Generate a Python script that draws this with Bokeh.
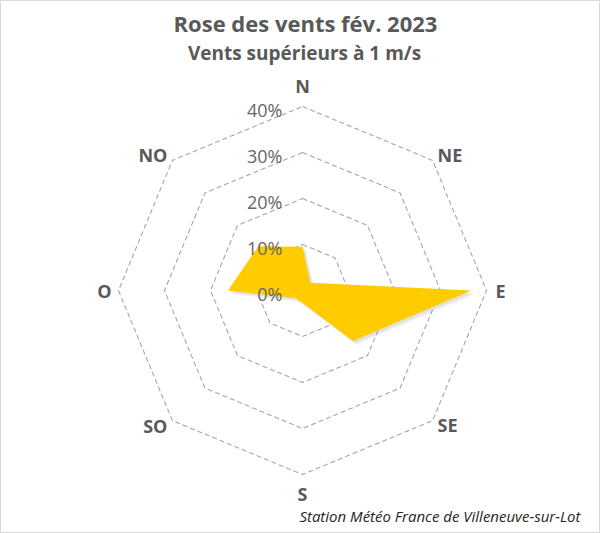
import numpy as np
from bokeh.plotting import figure
from bokeh.models import Range1d
from bokeh.core.properties import value
from bokeh.embed import file_html
from bokeh.resources import INLINE

# ---- data ----
directions = ["N", "NE", "E", "SE", "S", "SO", "O", "NO"]
frequencies = [9.5, 2.4, 36.7, 15.5, 2.7, 2.3, 16.2, 13.6]   # %
ring_levels = [10, 20, 30, 40]
tick_values = [0, 10, 20, 30, 40]
tick_labels = ["0%", "10%", "20%", "30%", "40%"]
title_text = "Rose des vents fév. 2023"
subtitle_text = "Vents supérieurs à 1 m/s"
source_text = "Station Météo France de Villeneuve-sur-Lot"

# ---- layout ----
W, H = 600, 533
S = 4.6            # pixels per percent
CX, CY = 302, 290  # chart centre in figure pixels (from top-left)
FONT = "Open Sans"
GREY = "#595959"

def P(px, py):
    """figure pixel -> data coords"""
    return ((px - CX) / S, (CY - py) / S)

p = figure(width=W, height=H, output_backend="svg", toolbar_location=None,
           x_range=Range1d(-CX / S, (W - CX) / S),
           y_range=Range1d(-(H - CY) / S, CY / S),
           min_border=0)
p.axis.visible = False
p.grid.visible = False
p.outline_line_color = "#D9D9D9"
p.background_fill_color = "white"

n = len(directions)
theta = np.pi / 2 - np.arange(n) * 2 * np.pi / n
cosv, sinv = np.cos(theta), np.sin(theta)

# rings
p.patches([list(r * cosv) for r in ring_levels], [list(r * sinv) for r in ring_levels],
          fill_color=None, line_color="#A6A6A6", line_dash="5 3", line_width=1.1)

# data polygon with soft shadow
f = np.array(frequencies)
xs, ys = f * cosv, f * sinv
for k, a in [(4, 0.06), (3, 0.08), (2, 0.12)]:
    p.patch(list(xs + k / S), list(ys - k / S), fill_color="#808080", fill_alpha=a, line_color=None)
p.patch(list(xs), list(ys), fill_color="#FFCC00", line_color=None)

# radial tick labels
p.text(x=[-20 / S] * len(tick_values), y=[v - 3 / S for v in tick_values], text=tick_labels,
       text_font=value(FONT), text_font_size="18px", text_color="#666666",
       text_align="right", text_baseline="middle")

# direction labels
R = ring_levels[-1]
offs = [(0, 21), (5, 5), (9, 0), (5, -4), (0, -19), (-5, -5), (-7, 0), (-5, 5)]
aligns = ["center", "left", "left", "left", "center", "right", "right", "right"]
lx = [R * cosv[i] + offs[i][0] / S for i in range(n)]
ly = [R * sinv[i] + offs[i][1] / S for i in range(n)]
p.text(x=lx, y=ly, text=directions, text_align=aligns, text_baseline="middle",
       text_font=value(FONT), text_font_size="18px", text_font_style="bold", text_color=GREY)

# titles and source
tx, ty = P(305, 22)
p.text(x=[tx], y=[ty], text=[title_text], text_align="center", text_baseline="middle",
       text_font=value(FONT), text_font_size="22px", text_font_style="bold", text_color=GREY)
sx, sy = P(304, 52)
p.text(x=[sx], y=[sy], text=[subtitle_text], text_align="center", text_baseline="middle",
       text_font=value(FONT), text_font_size="19px", text_font_style="bold", text_color=GREY)
fx, fy = P(580, 515)
p.text(x=[fx], y=[fy], text=[source_text], text_align="right", text_baseline="middle",
       text_font=value(FONT), text_font_size="15px", text_font_style="italic", text_color="#262626")

open("out.html", "w").write(file_html(p, INLINE))
